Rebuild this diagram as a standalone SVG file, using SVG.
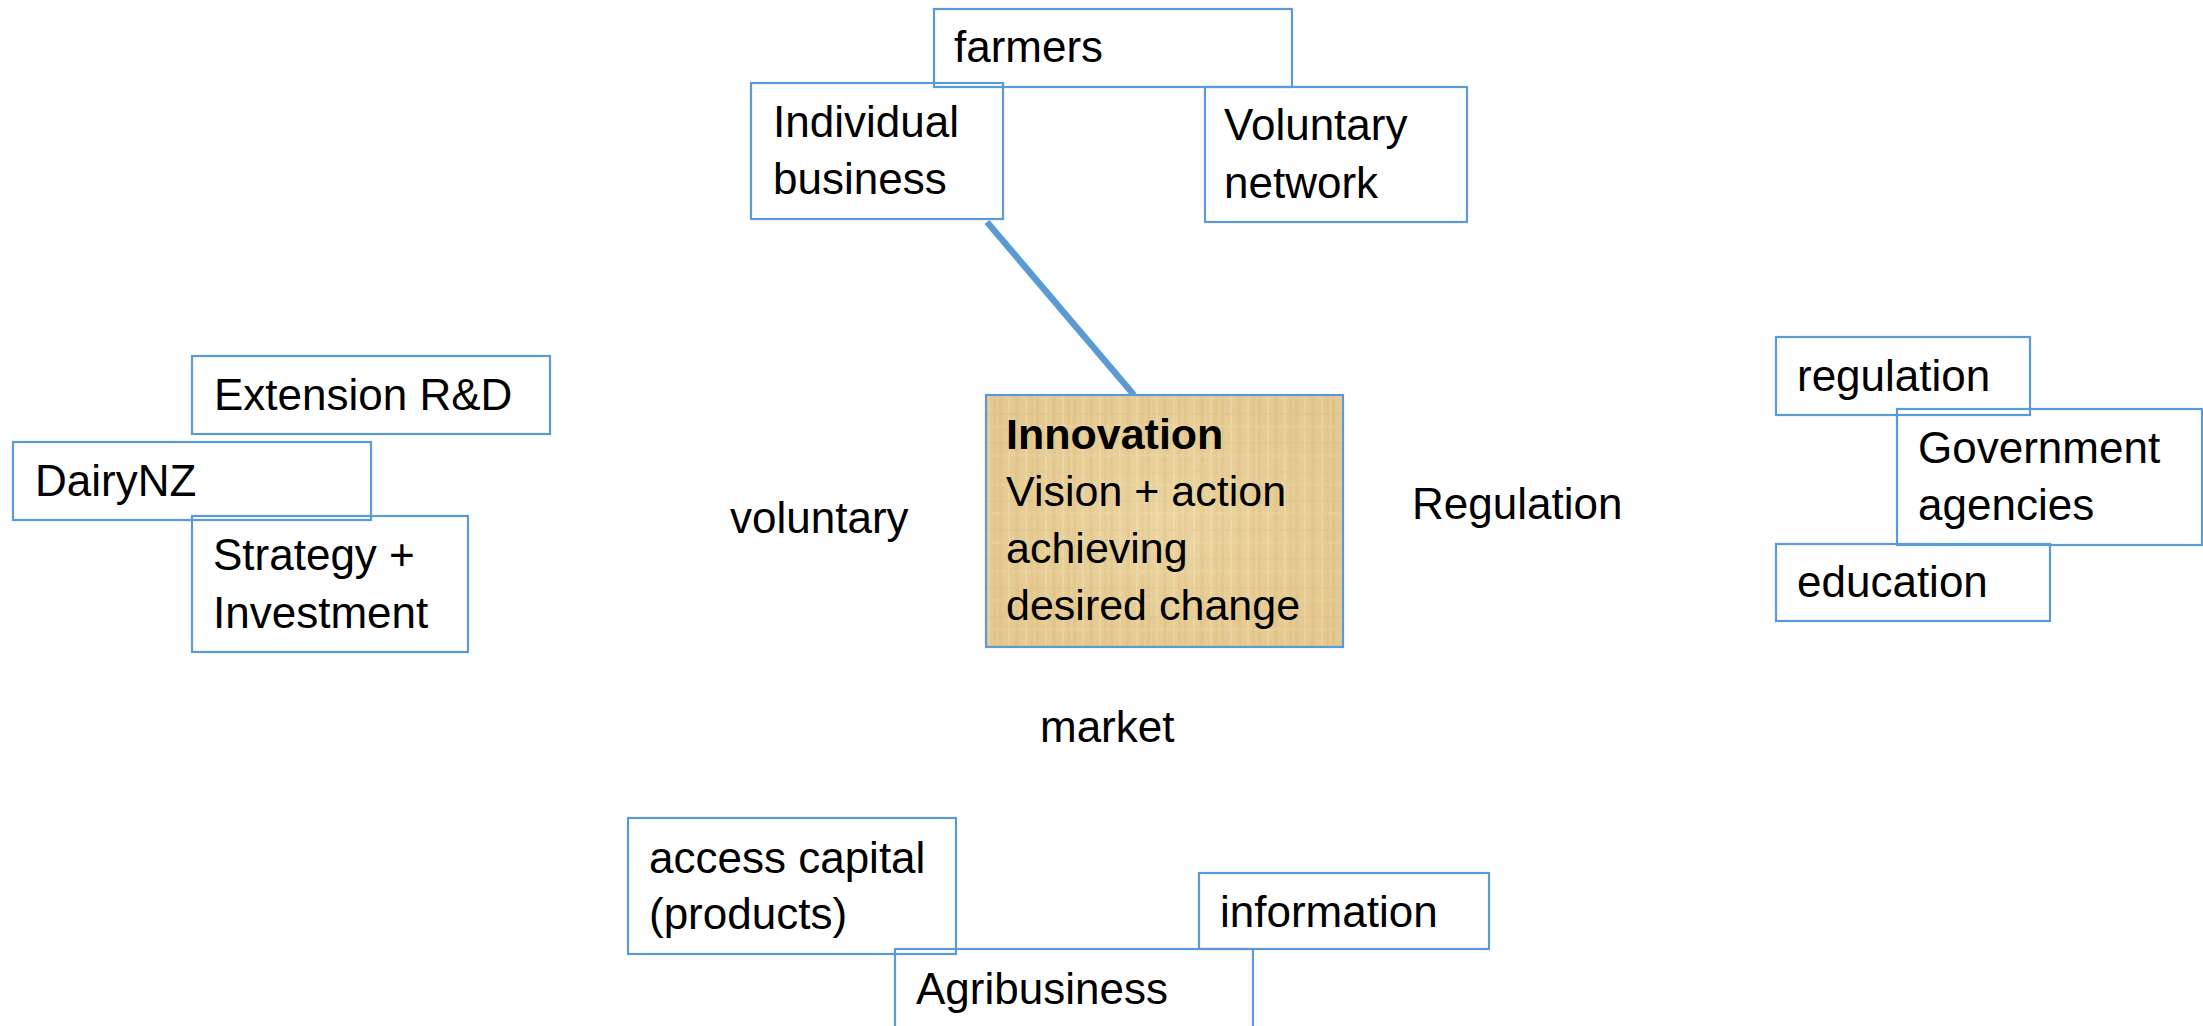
<svg xmlns="http://www.w3.org/2000/svg" width="2203" height="1026" viewBox="0 0 2203 1026">
<style>
.box{fill:none;stroke:#5B9BD5;stroke-width:2.2}
.t{font-family:"Liberation Sans",Arial,sans-serif;font-size:44px;fill:#000}
.b{font-weight:bold}
.n{font-size:43px}
.conn{stroke:#5B9BD5;stroke-width:6.5;fill:none;stroke-linecap:butt}
</style>
<defs>
<pattern id="papyrus" patternUnits="userSpaceOnUse" width="37" height="29">
<rect width="37" height="29" fill="#E8CF98"/>
<rect x="0" y="0" width="3" height="29" fill="#DCC084" opacity="0.5"/>
<rect x="9" y="0" width="2" height="29" fill="#F0DDB0" opacity="0.7"/>
<rect x="16" y="0" width="4" height="29" fill="#DABC7F" opacity="0.4"/>
<rect x="26" y="0" width="2" height="29" fill="#F1E0B6" opacity="0.6"/>
<rect x="31" y="0" width="3" height="29" fill="#D8B97C" opacity="0.35"/>
<rect x="0" y="7" width="37" height="2" fill="#DCC084" opacity="0.3"/>
<rect x="0" y="19" width="37" height="3" fill="#EED9A8" opacity="0.45"/>
</pattern>
<radialGradient id="shade" cx="0.5" cy="0.5" r="0.7">
<stop offset="0" stop-color="#F3E2B8" stop-opacity="0.3"/>
<stop offset="1" stop-color="#D2AE6C" stop-opacity="0.2"/>
</radialGradient>
</defs>

<g id="connectors">
<line class="conn" x1="987" y1="222" x2="1134" y2="395"/>
</g>

<g id="node-farmers">
<rect class="box" x="934" y="9" width="358" height="78"/>
<text class="t" x="954" y="62">farmers</text>
</g>
<g id="node-individual-business">
<rect class="box" x="751" y="83" width="252" height="136"/>
<text class="t" x="773" y="137">Individual</text>
<text class="t" x="773" y="194">business</text>
</g>
<g id="node-voluntary-network">
<rect class="box" x="1205" y="87" width="262" height="135"/>
<text class="t" x="1224" y="140">Voluntary</text>
<text class="t" x="1224" y="198">network</text>
</g>

<g id="node-extension">
<rect class="box" x="192" y="356" width="358" height="78"/>
<text class="t" x="214" y="410">Extension R&amp;D</text>
</g>
<g id="node-dairynz">
<rect class="box" x="13" y="442" width="358" height="78"/>
<text class="t" x="35" y="496">DairyNZ</text>
</g>
<g id="node-strategy">
<rect class="box" x="192" y="516" width="276" height="136"/>
<text class="t" x="213" y="570">Strategy +</text>
<text class="t" x="213" y="628">Investment</text>
</g>

<g id="label-voluntary">
<text class="t" x="730" y="533">voluntary</text>
</g>

<g id="node-innovation">
<rect x="986" y="395" width="357" height="252" fill="url(#papyrus)"/>
<rect x="986" y="395" width="357" height="252" fill="url(#shade)"/>
<rect class="box" x="986" y="395" width="357" height="252"/>
<text class="t b n" x="1006" y="449">Innovation</text>
<text class="t n" x="1006" y="506">Vision + action</text>
<text class="t n" x="1006" y="563">achieving</text>
<text class="t n" x="1006" y="620">desired change</text>
</g>

<g id="label-regulation">
<text class="t" x="1412" y="519">Regulation</text>
</g>

<g id="node-regulation">
<rect class="box" x="1776" y="337" width="254" height="78"/>
<text class="t" x="1797" y="391">regulation</text>
</g>
<g id="node-government">
<rect class="box" x="1897" y="409" width="305" height="136"/>
<text class="t" x="1918" y="463">Government</text>
<text class="t" x="1918" y="520">agencies</text>
</g>
<g id="node-education">
<rect class="box" x="1776" y="544" width="274" height="77"/>
<text class="t" x="1797" y="597">education</text>
</g>

<g id="label-market">
<text class="t" x="1040" y="742">market</text>
</g>

<g id="node-access-capital">
<rect class="box" x="628" y="818" width="328" height="136"/>
<text class="t" x="649" y="873">access capital</text>
<text class="t" x="649" y="929">(products)</text>
</g>
<g id="node-information">
<rect class="box" x="1199" y="873" width="290" height="76"/>
<text class="t" x="1220" y="927">information</text>
</g>
<g id="node-agribusiness">
<rect class="box" x="895" y="949" width="358" height="100"/>
<text class="t" x="916" y="1004">Agribusiness</text>
</g>
</svg>
